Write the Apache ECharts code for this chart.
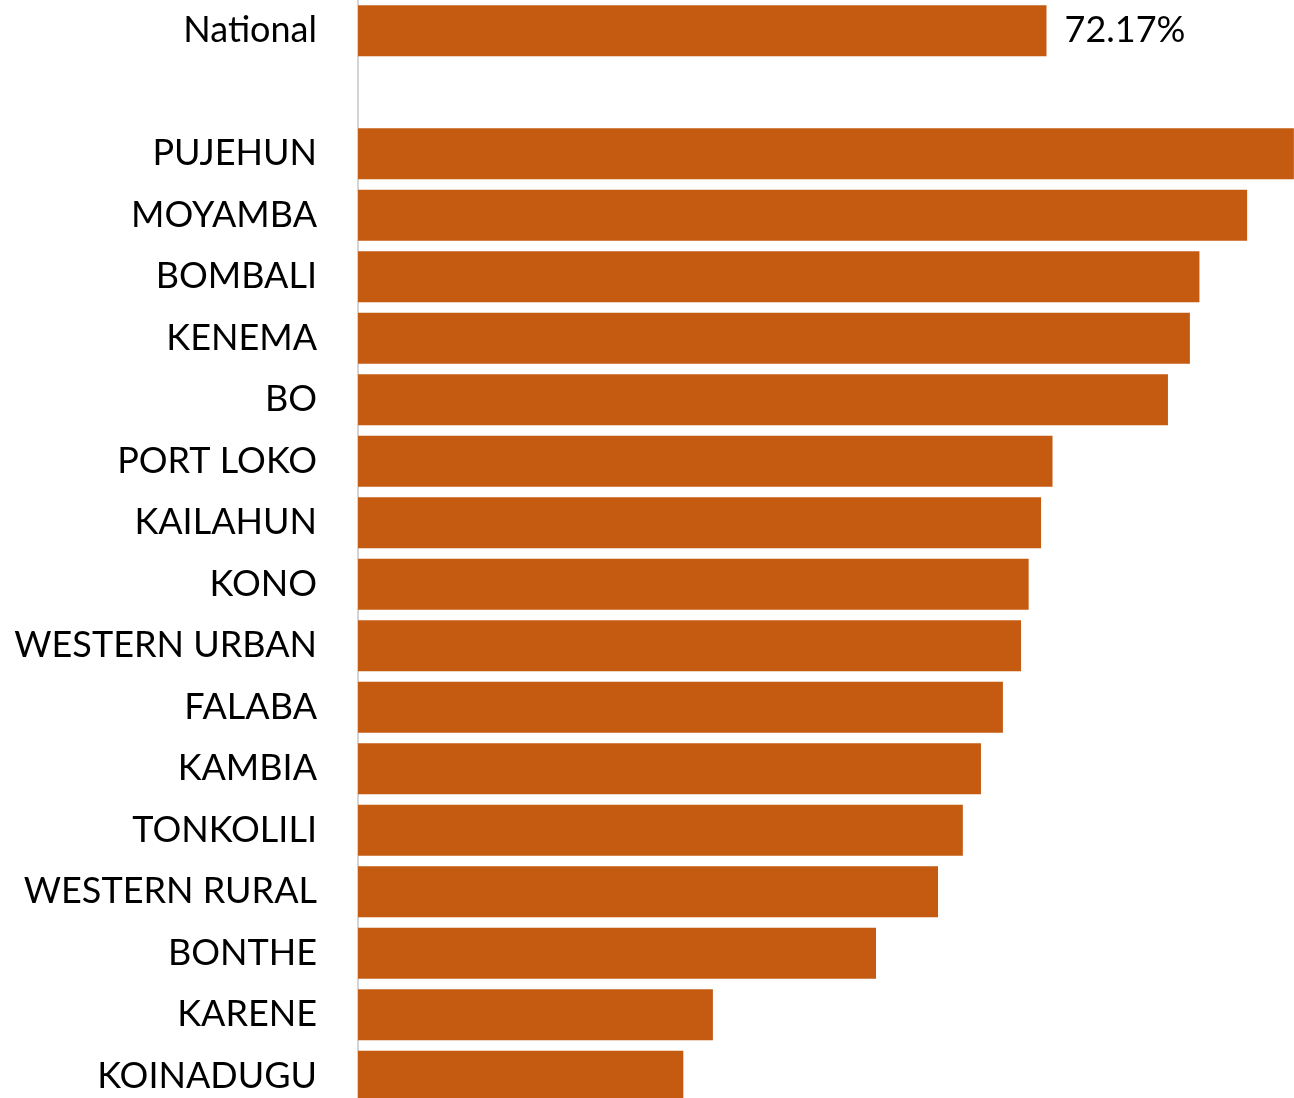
<!DOCTYPE html>
<html>
<head>
<meta charset="utf-8">
<script src="https://cdn.jsdelivr.net/npm/echarts@6/dist/echarts.min.js"></script>
<style>
html,body{margin:0;padding:0;background:#fff;}
#chart{width:1294px;height:1098px;}
</style>
</head>
<body>
<div id="chart"></div>
<script>
const categories = ['National', '', 'PUJEHUN', 'MOYAMBA', 'BOMBALI', 'KENEMA', 'BO', 'PORT LOKO', 'KAILAHUN', 'KONO', 'WESTERN URBAN', 'FALABA', 'KAMBIA', 'TONKOLILI', 'WESTERN RURAL', 'BONTHE', 'KARENE', 'KOINADUGU'];
const values = [72.17, null, 98.1, 93.2, 88.2, 87.2, 84.9, 72.8, 71.6, 70.3, 69.5, 67.6, 65.3, 63.4, 60.8, 54.3, 37.2, 34.1];
const labelledCategory = 'National';

const FONT = 'Lato';
const chart = echarts.init(document.getElementById('chart'));
chart.setOption({
  animation: false,
  grid: { left: 358, top: 0, width: 954, height: 1107, outerBoundsMode: 'none', containLabel: false },
  xAxis: {
    type: 'value', min: 0, max: 100, show: false
  },
  yAxis: {
    type: 'category', data: categories, inverse: true,
    axisLine: { show: true, lineStyle: { color: '#d4d4d4', width: 2 } },
    axisTick: { show: false },
    axisLabel: { color: '#000', fontFamily: FONT, fontSize: 36, margin: 41 }
  },
  series: [{
    type: 'bar',
    barWidth: 51,
    itemStyle: { color: '#C55A11' },
    data: values.map((v, i) => categories[i] === labelledCategory ? {
      value: v,
      label: { show: true, position: 'right', distance: 18, color: '#000', fontFamily: FONT, fontSize: 36,
        formatter: p => p.value.toFixed(2) + '%' }
    } : v)
  }]
});
</script>
</body>
</html>
